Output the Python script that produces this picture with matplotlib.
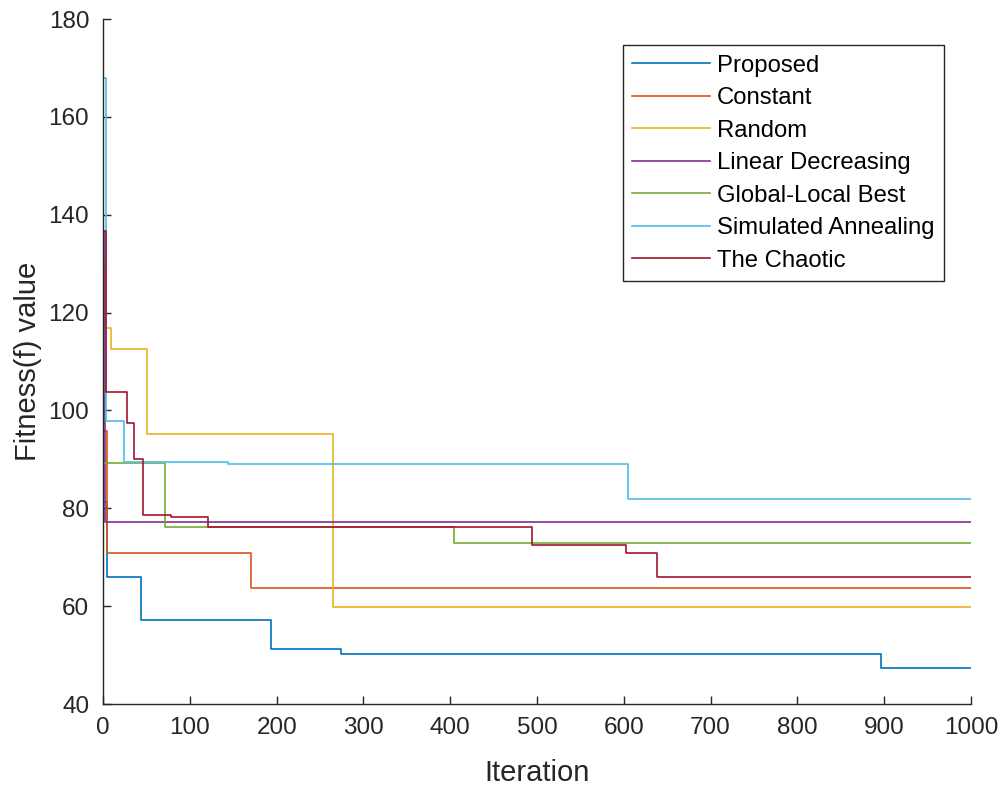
import numpy as np
import matplotlib.pyplot as plt

plt.rcParams['font.family'] = ['Liberation Sans', 'DejaVu Sans']

# step points: iteration where the best fitness changes, and the new value
proposed_it = [0, 4, 44, 193, 274, 580, 896, 1000]
proposed_val = [81.2, 66.0, 57.1, 51.2, 50.3, 50.2, 47.4, 47.4]

constant_it = [0, 5, 170, 1000]
constant_val = [95.9, 70.9, 63.7, 63.7]

random_it = [0, 2, 9, 51, 265, 1000]
random_val = [130.3, 116.8, 112.5, 95.2, 59.9, 59.9]

lindec_it = [0, 2, 1000]
lindec_val = [136.5, 77.3, 77.3]

glbest_it = [0, 71, 404, 1000]
glbest_val = [89.3, 76.1, 72.9, 72.9]

simann_it = [0, 3, 24, 144, 605, 1000]
simann_val = [168.0, 97.8, 89.5, 89.0, 82.0, 82.0]

chaotic_it = [0, 3, 27, 36, 46, 78, 121, 494, 602, 638, 1000]
chaotic_val = [136.6, 103.8, 97.4, 90.0, 78.6, 78.2, 76.1, 72.5, 70.8, 65.9, 65.9]

labels = ['Proposed', 'Constant', 'Random', 'Linear Decreasing',
          'Global-Local Best', 'Simulated Annealing', 'The Chaotic']
colors = ['#0072BD', '#D95319', '#EDB120', '#7E2F8E',
          '#77AC30', '#4DBEEE', '#A2142F']
series = [(proposed_it, proposed_val), (constant_it, constant_val),
          (random_it, random_val), (lindec_it, lindec_val),
          (glbest_it, glbest_val), (simann_it, simann_val),
          (chaotic_it, chaotic_val)]

fig = plt.figure(figsize=(10.01, 7.86), dpi=100)
ax = fig.add_axes([0.103, 0.1043, 0.867, 0.8715])

for (it, val), lab, c in zip(series, labels, colors):
    ax.plot(it, val, drawstyle='steps-post', color=c, lw=1.2, label=lab)

ax.set_xlim(0, 1000)
ax.set_ylim(40, 180)
ax.set_xticks(np.arange(0, 1001, 100))
ax.set_yticks(np.arange(40, 181, 20))
for s in ['top', 'right']:
    ax.spines[s].set_visible(False)
for s in ['left', 'bottom']:
    ax.spines[s].set_color('#262626')
    ax.spines[s].set_linewidth(1.0)
ax.tick_params(direction='in', length=6, width=1.0, color='#262626',
               labelsize=17.5, labelcolor='#262626')
ax.tick_params(axis='x', pad=9)
ax.tick_params(axis='y', pad=10)
ax.set_xlabel('Iteration', fontsize=21, color='#262626', labelpad=15)
ax.set_ylabel('Fitness(f) value', fontsize=21, color='#262626', labelpad=5)

leg = ax.legend(loc='upper right', bbox_to_anchor=(0.969, 0.962),
                borderaxespad=0, fontsize=17.2, handlelength=3.25,
                labelspacing=0.44, fancybox=False, framealpha=1,
                edgecolor='#262626', borderpad=0.4, handletextpad=0.3)
leg.get_frame().set_linewidth(1.0)

fig.savefig('out.png', dpi=100)
